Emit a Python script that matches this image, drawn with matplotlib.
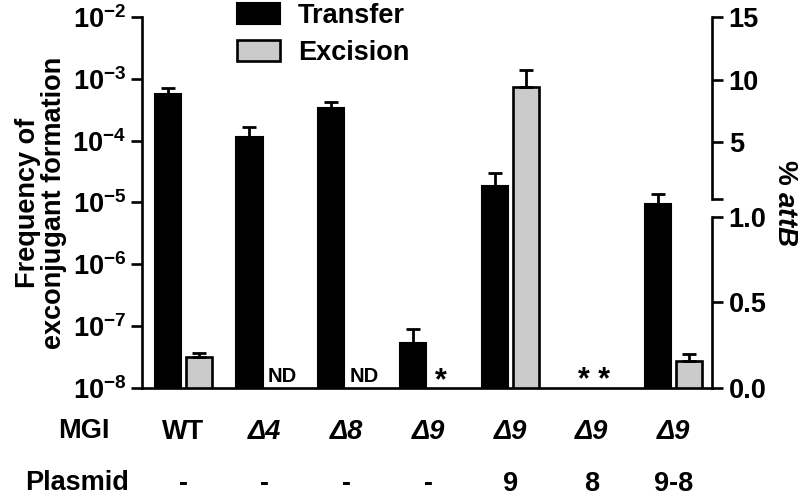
import matplotlib as mpl

mpl.use("Agg")

import matplotlib.pyplot as plt
import numpy as np

mpl.rcParams.update(
    {
        "font.family": "Liberation Sans",
        "font.weight": "bold",
        "mathtext.fontset": "custom",
        "mathtext.rm": "Liberation Sans:bold",
        "mathtext.bf": "Liberation Sans:bold",
        "mathtext.it": "Liberation Sans:italic:bold",
        "mathtext.default": "rm",
        "axes.linewidth": 1.9,
    }
)

# data
mgi = ["WT", "Δ4", "Δ8", "Δ9", "Δ9", "Δ9", "Δ9"]
plasmid = ["-", "-", "-", "-", "9", "8", "9-8"]
transfer = [5.6e-4, 1.16e-4, 3.34e-4, 5.4e-8, 1.85e-5, np.nan, 9.5e-6]
transfer_err = [1.4e-4, 5.2e-5, 0.93e-4, 3.5e-8, 1.1e-5, np.nan, 4.3e-6]
excision = [0.18, np.nan, np.nan, np.nan, 9.4, np.nan, 0.155]
excision_err = [0.022, np.nan, np.nan, np.nan, 1.35, np.nan, 0.045]
nd_marks = ["", "ND", "ND", "", "", "", ""]
star_marks = ["", "", "", "*", "", "* *", ""]

BLACK = "#000000"
GRAY = "#CBCBCB"
FS = 19.5


# broken right axis: lower part 0-1.0, upper part up to 15 (piecewise linear map)
def fwd(v):
    v = np.asarray(v, dtype=float)
    return np.where(v <= 1.151, 171.0 * v, 182.5 + 12.5 * v)


def inv(p):
    p = np.asarray(p, dtype=float)
    return np.where(p <= 196.9, p / 171.0, (p - 182.5) / 12.5)


fig = plt.figure(figsize=(8.0, 4.98), dpi=100)
ax = fig.add_axes([0.177, 0.2209, 0.713, 0.745])
ax2 = ax.twinx()

x = np.arange(len(mgi))
off = 0.19
w = 0.32

ax.set_yscale("log")
ax.bar(x - off, transfer, w, color=BLACK, edgecolor=BLACK, linewidth=1.5, label="Transfer",
       yerr=[np.zeros(len(x)), transfer_err], capsize=4.7,
       error_kw={"elinewidth": 2.0, "capthick": 2.0, "ecolor": BLACK})
ax.set_ylim(1e-8, 1e-2)
ax.set_xlim(-0.51, 6.47)

ax2.set_yscale("function", functions=(fwd, inv))
ax2.bar(x + off, excision, w, color=GRAY, edgecolor=BLACK, linewidth=1.9, label="Excision",
        yerr=[np.zeros(len(x)), excision_err], capsize=4.7,
        error_kw={"elinewidth": 2.0, "capthick": 2.0, "ecolor": BLACK})
ax2.set_ylim(0, 15)

# left axis
ax.set_yticks([10.0 ** k for k in range(-8, -1)])
ax.set_yticklabels([rf"$10^{{{k}}}$" for k in range(-8, -1)])
ax.yaxis.set_minor_locator(mpl.ticker.NullLocator())
ax.tick_params(axis="y", which="major", length=8, width=1.9, labelsize=FS, pad=3)
ax.tick_params(axis="x", length=0, labelsize=FS, pad=22)
ax.set_xticks(x)
ax.set_xticklabels(mgi)
for lab, name in zip(ax.get_xticklabels(), mgi):
    lab.set_fontweight("bold")
    if name.startswith("Δ"):
        lab.set_fontstyle("italic")
ax.spines["top"].set_visible(False)
ax.spines["right"].set_visible(False)
ax.set_ylabel("Frequency of\nexconjugant formation", fontsize=FS, fontweight="bold",
              labelpad=4, linespacing=1.0)

# right axis with break
vb = 1.10
ax2.spines["top"].set_visible(False)
ax2.spines["left"].set_visible(False)
ax2.spines["bottom"].set_visible(False)
ax2.spines["right"].set_bounds(0, 1.0)
ax2.plot([1, 1], [vb, 15], transform=ax2.get_yaxis_transform(), color=BLACK,
         lw=1.9, clip_on=False, solid_capstyle="projecting")
ax2.set_yticks([0, 0.5, 1.0, vb, 5, 10, 15])
ax2.set_yticklabels(["0.0", "0.5", "1.0", "", "5", "10", "15"])
ax2.yaxis.set_minor_locator(mpl.ticker.NullLocator())
ax2.tick_params(axis="y", length=8, width=1.9, labelsize=FS, pad=4)
for lab in ax2.get_yticklabels() + ax.get_yticklabels():
    lab.set_fontweight("bold")

# ND / * notes
tr = ax.get_xaxis_transform()
for xi, n in zip(x, nd_marks):
    if n:
        ax.text(xi + 0.21, 0.032, n, ha="center", va="center", fontsize=14.5, fontweight="bold",
                transform=tr)
for xi, n in zip(x, star_marks):
    if n:
        dx = 0.15 if n == "*" else 0.02
        ax.text(xi + dx, 0.018, n, ha="center", va="center", fontsize=22, fontweight="bold",
                transform=tr)

# plasmid row
for xi, p in zip(x, plasmid):
    ax.text(xi, -0.258, p, ha="center", va="center", fontsize=FS, fontweight="bold", transform=tr)
fig.text(84 / 800, 1 - 431 / 498, "MGI", ha="center", va="center", fontsize=FS, fontweight="bold")
fig.text(77 / 800, 1 - 483 / 498, "Plasmid", ha="center", va="center", fontsize=FS, fontweight="bold")

fig.text(785 / 800, 1 - 203 / 498, r"% $\mathit{attB}$", rotation=270, ha="center", va="center",
         fontsize=20, fontweight="bold")

# legend
h1, l1 = ax.get_legend_handles_labels()
h2, l2 = ax2.get_legend_handles_labels()
fig.legend(h1 + h2, l1 + l2, loc="upper left", bbox_to_anchor=(237 / 800, 0.994), frameon=False,
           borderpad=0, borderaxespad=0, handlelength=1.6, handleheight=0.8, handletextpad=0.65,
           labelspacing=0.4, prop={"weight": "bold", "size": FS})

fig.savefig("out.png", dpi=100)
